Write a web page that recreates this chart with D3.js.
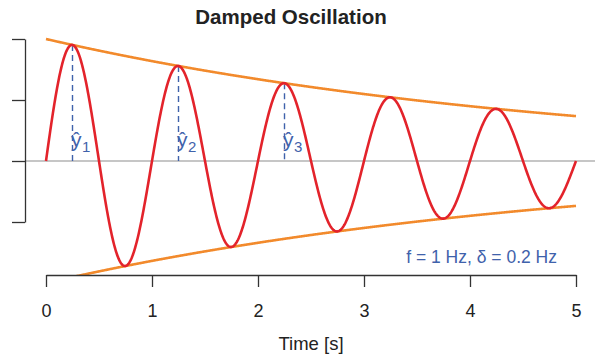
<!DOCTYPE html>
<html>
<head>
<meta charset="utf-8">
<script src="https://cdn.jsdelivr.net/npm/d3@7"></script>
<style>
  body { margin: 0; background: #fff; }
  svg { display: block; font-family: "Liberation Sans", Arial, sans-serif; }
</style>
</head>
<body>
<svg id="chart" width="595" height="354"></svg>
<script>
// oscillation parameters (as printed in the annotation)
var freq = 1;        // Hz
var damping = 0.2;   // Hz
var tMax = 5;

var timeTicks = [0, 1, 2, 3, 4, 5];
var ampTicks = [-0.5, 0, 0.5, 1];
var peakTimes = [0.25, 1.25, 2.25];
var peakNames = ['1', '2', '3'];

var RED = '#e3232b';
var ORANGE = '#f28a2c';
var BLUE = '#3f62ab';
var AXIS = '#333';

var svg = d3.select('#chart');

var x = d3.scaleLinear().domain([0, 5]).range([46, 576]);
var y = d3.scaleLinear().domain([-0.5, 1]).range([222, 39]);

var envelope = function(t) { return Math.exp(-damping * t); };
var signal = function(t) { return envelope(t) * Math.sin(2 * Math.PI * freq * t); };

var ts = d3.range(0, tMax + 0.0001, 0.005);

svg.append('defs').append('clipPath')
    .attr('id', 'plot-clip')
  .append('rect')
    .attr('x', 25).attr('y', 0)
    .attr('width', 570).attr('height', 276);

var plot = svg.append('g').attr('clip-path', 'url(#plot-clip)');

// zero line
plot.append('line')
    .attr('x1', 25).attr('x2', 595)
    .attr('y1', y(0)).attr('y2', y(0))
    .style('stroke', '#b3b3b3')
    .style('stroke-width', 1.5);

// dashed drops from the first peaks
plot.selectAll('.drop')
    .data(peakTimes)
    .enter().append('line')
    .attr('class', 'drop')
    .attr('x1', function(d) { return x(d); })
    .attr('x2', function(d) { return x(d); })
    .attr('y1', function(d) { return y(envelope(d)); })
    .attr('y2', y(0))
    .style('stroke', BLUE)
    .style('stroke-width', 1.4)
    .style('stroke-dasharray', '6,4');

var line = d3.line()
    .x(function(d) { return x(d[0]); })
    .y(function(d) { return y(d[1]); });

// upper and lower envelope
plot.append('path')
    .attr('d', line(ts.map(function(t) { return [t, envelope(t)]; })))
    .style('fill', 'none').style('stroke', ORANGE).style('stroke-width', 2.6);
plot.append('path')
    .attr('d', line(ts.map(function(t) { return [t, -envelope(t)]; })))
    .style('fill', 'none').style('stroke', ORANGE).style('stroke-width', 2.6);

// the damped signal
plot.append('path')
    .attr('d', line(ts.map(function(t) { return [t, signal(t)]; })))
    .style('fill', 'none').style('stroke', RED).style('stroke-width', 2.6)
    .style('stroke-linejoin', 'round');

// y-hat labels
var peakLabel = svg.selectAll('.peak-label')
    .data(peakTimes)
    .enter().append('g')
    .attr('class', 'peak-label')
    .attr('transform', function(d) { return 'translate(' + (x(d) - 1.5) + ',147)'; })
    .style('fill', BLUE);
peakLabel.append('text')
    .attr('x', 0).attr('y', 0)
    .style('font-size', '21px')
    .text('\u0177');
peakLabel.append('text')
    .attr('x', 11).attr('y', 5)
    .style('font-size', '15px')
    .text(function(d, i) { return peakNames[i]; });

svg.append('text')
    .attr('x', 557).attr('y', 263)
    .attr('text-anchor', 'end')
    .style('fill', BLUE)
    .style('font-size', '17.5px')
    .text('f = 1 Hz, \u03b4 = 0.2 Hz');

// axes
var xAxis = svg.append('g')
    .attr('transform', 'translate(0,275)')
    .call(d3.axisBottom(x).tickValues(timeTicks).tickFormat(d3.format('d'))
      .tickSize(12).tickPadding(17).tickSizeOuter(0));
var yAxis = svg.append('g')
    .attr('transform', 'translate(25,0)')
    .call(d3.axisLeft(y).tickValues(ampTicks).tickSize(13).tickFormat('').tickSizeOuter(0));

[xAxis, yAxis].forEach(function(ax) {
  ax.select('.domain').style('stroke', AXIS).style('stroke-width', 1.3);
  ax.selectAll('.tick line').style('stroke', AXIS).style('stroke-width', 1.3);
  ax.selectAll('text').style('font-family', '"Liberation Sans", Arial, sans-serif')
      .style('font-size', '18px').style('fill', '#222');
});

svg.append('text')
    .attr('x', 311).attr('y', 350)
    .attr('text-anchor', 'middle')
    .style('font-size', '18.5px')
    .style('fill', '#222')
    .text('Time [s]');

svg.append('text')
    .attr('x', 291).attr('y', 24)
    .attr('text-anchor', 'middle')
    .style('font-size', '20.5px')
    .style('font-weight', 'bold')
    .style('fill', '#222')
    .text('Damped Oscillation');
</script>
</body>
</html>
